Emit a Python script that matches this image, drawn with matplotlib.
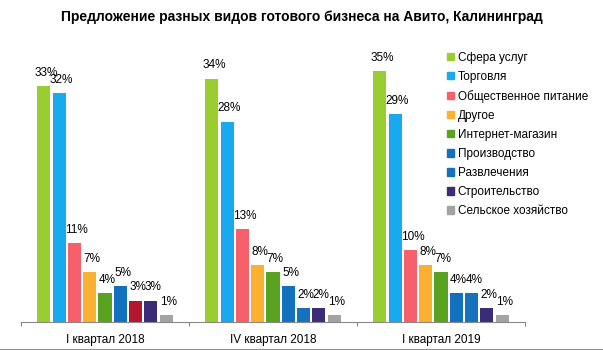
import numpy as np
import matplotlib.pyplot as plt
from matplotlib.patches import Patch

plt.rcParams['font.family'] = ['Liberation Sans', 'DejaVu Sans']

periods = ['I квартал 2018', 'IV квартал 2018', 'I квартал 2019']
categories = ['Сфера услуг', 'Торговля', 'Общественное питание', 'Другое',
              'Интернет-магазин', 'Производство', 'Развлечения',
              'Строительство', 'Сельское хозяйство']
services = [33, 34, 35]
trade = [32, 28, 29]
catering = [11, 13, 10]
other = [7, 8, 8]
online = [4, 7, 7]
production = [5, 5, 4]
entertainment = [3, 2, 4]
construction = [3, 2, 2]
agriculture = [1, 1, 1]
series = [services, trade, catering, other, online, production,
          entertainment, construction, agriculture]

colors = ['#9ACD32', '#18A9EE', '#F5606A', '#FAB12F', '#5AA321',
          '#1270BE', '#1672BD', '#3C2C78', '#A3A3A3']
# first-quarter "Развлечения" bar is drawn in dark red
special = {(6, 0): '#B3162E'}

fig = plt.figure(figsize=(6.03, 3.5), dpi=100)
ax = fig.add_axes([21 / 603, 28 / 350, 504 / 603, 282 / 350])

n = len(series)
step = 1 / 11.0
width = step * 0.86
x = np.arange(len(periods))
for i, (name, vals) in enumerate(zip(categories, series)):
    pos = x - step * (n - 1) / 2 + i * step
    cols = [special.get((i, j), colors[i]) for j in range(len(vals))]
    ax.bar(pos, vals, width=width, color=cols)
    for p, v in zip(pos, vals):
        ax.text(p + 0.014, v + 1.0, f'{v}%', ha='center', va='bottom', fontsize=8.5)

ax.set_xlim(-0.5, 2.5)
ax.set_ylim(0, 39.4)
ax.set_yticks([])
ax.set_xticks([-0.5, 0.5, 1.5, 2.5])
ax.set_xticklabels([])
ax.tick_params(axis='x', direction='out', length=3, color='#888888')
for p, lab in zip(x, periods):
    ax.text(p, -2.55, lab, ha='center', va='center', fontsize=8.5)
for s in ['top', 'right', 'left']:
    ax.spines[s].set_visible(False)
ax.spines['bottom'].set_color('#888888')

handles = [Patch(color=c, label=name) for c, name in zip(colors, categories)]
fig.legend(handles=handles, loc='upper left',
           bbox_to_anchor=(436 / 603, 1 - 41 / 350),
           frameon=False, fontsize=8.5, handlelength=0.6,
           handleheight=0.6, handletextpad=0.35, labelspacing=0.6)

fig.text(0.5, 1 - 17 / 350, 'Предложение разных видов готового бизнеса на Авито, Калининград',
         ha='center', va='center', fontsize=10, fontweight='bold')

fig.add_artist(plt.Line2D([0, 1], [0.5 / 350, 0.5 / 350], color='#777777', lw=1.2))

fig.savefig('out.png', dpi=100)
